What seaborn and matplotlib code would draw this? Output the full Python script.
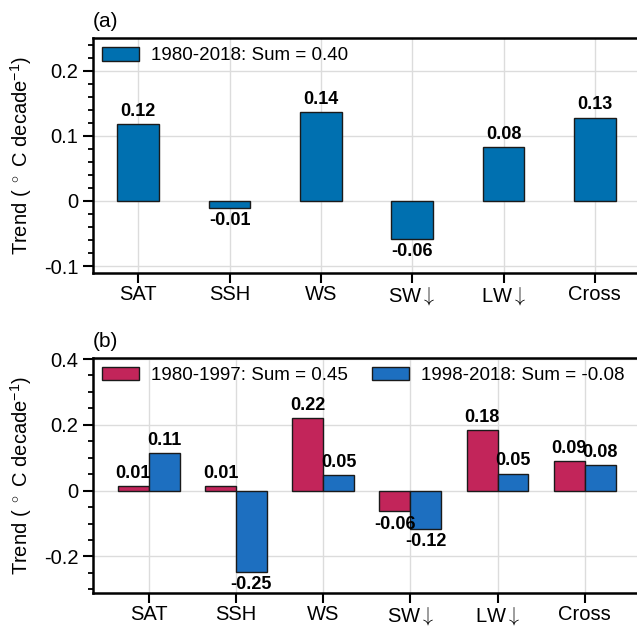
import numpy as np
import pandas as pd
import matplotlib
matplotlib.use("Agg")
import matplotlib.pyplot as plt
from matplotlib.ticker import MultipleLocator, FuncFormatter
import seaborn as sns

# ---- data ----
categories = ["SAT", "SSH", "WS", "SW↓", "LW↓", "Cross"]
trend_all = [0.118, -0.011, 0.137, -0.058, 0.083, 0.128]
trend_early = [0.013, 0.014, 0.221, -0.063, 0.184, 0.090]
trend_late = [0.114, -0.248, 0.048, -0.117, 0.052, 0.078]
label_all = "1980-2018: Sum = 0.40"
label_early = "1980-1997: Sum = 0.45"
label_late = "1998-2018: Sum = -0.08"
panel_labels = ["(a)", "(b)"]
ylabel = "Trend ( $^\\circ$ C decade$^{-1}$)"

col_all = "#0070b0"
col_early = "#c2255a"
col_late = "#1d6fc0"

sns.set_theme(style="white")
plt.rcParams["font.family"] = ["Liberation Sans", "DejaVu Sans"]
plt.rcParams["axes.unicode_minus"] = False
plt.rcParams["text.color"] = "black"
plt.rcParams["axes.labelcolor"] = "black"
plt.rcParams["xtick.color"] = "black"
plt.rcParams["ytick.color"] = "black"
plt.rcParams["mathtext.fontset"] = "custom"
plt.rcParams["mathtext.rm"] = "Liberation Sans"
plt.rcParams["mathtext.it"] = "Liberation Sans:italic"

fig = plt.figure(figsize=(6.37, 6.27), dpi=100)
W, H = 637.0, 627.0
left = 92.5 / W
width = (640.5 - 92.5) / W
ax1 = fig.add_axes([left, (H - 272.7) / H, width, (272.7 - 38.0) / H])
ax2 = fig.add_axes([left, (H - 592.7) / H, width, (592.7 - 357.7) / H])

edge = "#1a1a1a"
FS_TICK = 14.5
FS_LEG = 13.5

# panel a
df_a = pd.DataFrame({"cat": categories, "val": trend_all})
sns.barplot(data=df_a, x="cat", y="val", color=col_all, width=0.455,
            edgecolor=edge, linewidth=1.0, errorbar=None, ax=ax1,
            label=label_all, saturation=1)

# panel b
df_b = pd.DataFrame({
    "cat": categories * 2,
    "val": trend_early + trend_late,
    "period": [label_early] * len(categories) + [label_late] * len(categories),
})
sns.barplot(data=df_b, x="cat", y="val", hue="period",
            palette=[col_early, col_late], width=0.71,
            edgecolor=edge, linewidth=1.0, errorbar=None, ax=ax2,
            saturation=1)

fmt = FuncFormatter(lambda v, p: "0" if abs(v) < 1e-9 else f"{v:g}")

for ax, lab in zip([ax1, ax2], panel_labels):
    for c in ax.containers:
        ax.bar_label(c, fmt="%.2f", padding=3, fontsize=13, fontweight="bold",
                     color="black")
    ax.set_xlabel("")
    ax.set_ylabel(ylabel, fontsize=14.5, labelpad=7)
    ax.yaxis.set_major_formatter(fmt)
    ax.grid(True, color="#dcdcdc", linewidth=1.0)
    ax.set_axisbelow(True)
    for s in ax.spines.values():
        s.set_linewidth(1.8)
        s.set_color("black")
    ax.tick_params(axis="both", which="major", direction="out", length=7.5,
                   width=1.5, labelsize=FS_TICK, color="black", pad=2.5,
                   left=True, bottom=True)
    ax.tick_params(axis="x", which="major", pad=1.5)
    ax.tick_params(axis="y", which="minor", direction="out", length=3.8,
                   width=1.3, color="black", left=True)
    ax.set_xticks(range(len(categories)))
    ticklabs = ax.set_xticklabels([c.replace("↓", r"$\downarrow$") for c in categories])
    for t in ticklabs:
        t.set_math_fontfamily("cm")
    ax.text(0.0, 1.03, lab, transform=ax.transAxes, fontsize=15,
            va="bottom", ha="left")

ax1.set_ylim(-0.11, 0.25)
ax1.yaxis.set_major_locator(MultipleLocator(0.1))
ax1.yaxis.set_minor_locator(MultipleLocator(0.02))
ax1.set_xlim(-0.5, 5.5)
ax2.set_ylim(-0.31, 0.404)
ax2.yaxis.set_major_locator(MultipleLocator(0.2))
ax2.yaxis.set_minor_locator(MultipleLocator(0.05))
ax2.set_xlim(-0.645, 5.64)

h1, l1 = ax1.get_legend_handles_labels()
ax1.legend(h1, l1, loc="upper left", frameon=False, fontsize=FS_LEG,
           handlelength=2.0, handleheight=0.7, handletextpad=0.6,
           borderaxespad=0.1, borderpad=0.4)
h2, l2 = ax2.get_legend_handles_labels()
ax2.legend(h2, l2, loc="upper left", frameon=False, fontsize=FS_LEG, ncol=2,
           handlelength=2.0, handleheight=0.7, handletextpad=0.6,
           columnspacing=1.3, borderaxespad=0.1, borderpad=0.4)

fig.savefig("out.png", dpi=100)
